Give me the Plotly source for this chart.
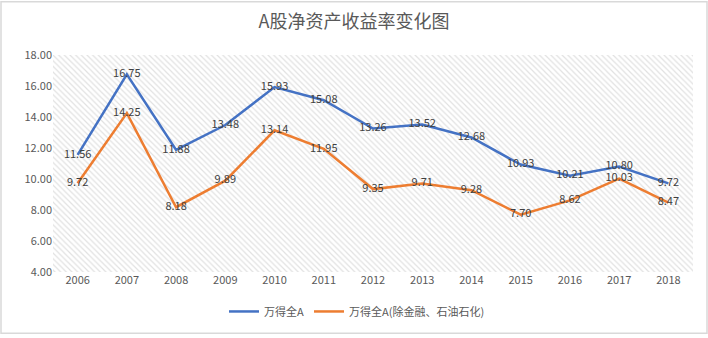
import plotly.graph_objects as go

# ROE of A-share market, %
years = ["2006", "2007", "2008", "2009", "2010", "2011", "2012",
         "2013", "2014", "2015", "2016", "2017", "2018"]
roe_all_a = [11.56, 16.75, 11.88, 13.48, 15.93, 15.08, 13.26,
             13.52, 12.68, 10.93, 10.21, 10.80, 9.72]
roe_ex_fin_petro = [9.72, 14.25, 8.18, 9.89, 13.14, 11.95, 9.35,
                    9.71, 9.28, 7.70, 8.62, 10.03, 8.47]
y_ticks = [4, 6, 8, 10, 12, 14, 16, 18]

W, H = 708, 338
ML, MR, MT, MB = 53, 15, 55, 63
x_idx = list(range(len(years)))
x_lo, x_hi = -0.5, len(years) - 0.5
y_lo, y_hi = y_ticks[0], y_ticks[-1]

FONT = "Noto Sans CJK SC, Noto Sans, sans-serif"
BLUE = "#4472C4"
ORANGE = "#ED7D31"

fig = go.Figure()

# hatched plot-area background
fig.add_trace(go.Scatter(
    x=[x_lo, x_hi, x_hi, x_lo, x_lo],
    y=[y_lo, y_lo, y_hi, y_hi, y_lo],
    mode="lines", line=dict(width=0), fill="toself",
    fillcolor="rgba(255,255,255,0)",
    fillpattern=dict(shape="\\", fgcolor="#c4c4c4", bgcolor="white",
                     size=4, solidity=0.3),
    hoverinfo="skip", showlegend=False,
))

for name, vals, color in [("万得全A", roe_all_a, BLUE),
                          ("万得全A(除金融、石油石化)", roe_ex_fin_petro, ORANGE)]:
    fig.add_trace(go.Scatter(
        x=x_idx, y=vals, name=name, mode="lines+text",
        line=dict(color=color, width=2.5),
        text=[f"{v:.2f}" for v in vals], textposition="middle center",
        textfont=dict(family=FONT, size=11, color="#404040"),
    ))

pw = W - ML - MR
ph = H - MT - MB
fig.add_shape(type="rect", xref="paper", yref="paper",
              x0=-(ML - 1) / pw, x1=1 + (MR - 1) / pw,
              y0=-(MB - 1) / ph, y1=1 + (MT - 1) / ph,
              line=dict(color="#d9d9d9", width=1.5), layer="below")

fig.update_layout(
    width=W, height=H,
    margin=dict(l=ML, r=MR, t=MT, b=MB),
    paper_bgcolor="white", plot_bgcolor="white",
    title=dict(text="A股净资产收益率变化图", x=0.5, xanchor="center",
               y=1 - 22 / H, yanchor="middle",
               font=dict(family=FONT, size=18, color="#595959")),
    font=dict(family=FONT, size=11, color="#595959"),
    xaxis=dict(range=[x_lo, x_hi], tickmode="array", tickvals=x_idx,
               ticktext=years, showgrid=False, zeroline=False,
               showline=False, ticks="",
               minor=dict(tick0=0.5, dtick=1, showgrid=True,
                          gridcolor="#dcdcdc", gridwidth=1),
               tickfont=dict(size=11, color="#595959")),
    yaxis=dict(range=[y_lo, y_hi], tickmode="array", tickvals=y_ticks,
               tickformat=".2f", showgrid=True, gridcolor="#d6d6d6",
               zeroline=False, showline=False, ticks="",
               tickfont=dict(size=11, color="#595959")),
    legend=dict(orientation="h", x=0.475, xanchor="center",
                y=-40 / ph, yanchor="middle",
                font=dict(size=11, color="#595959")),
    showlegend=True,
)

fig.write_html("out.html")
